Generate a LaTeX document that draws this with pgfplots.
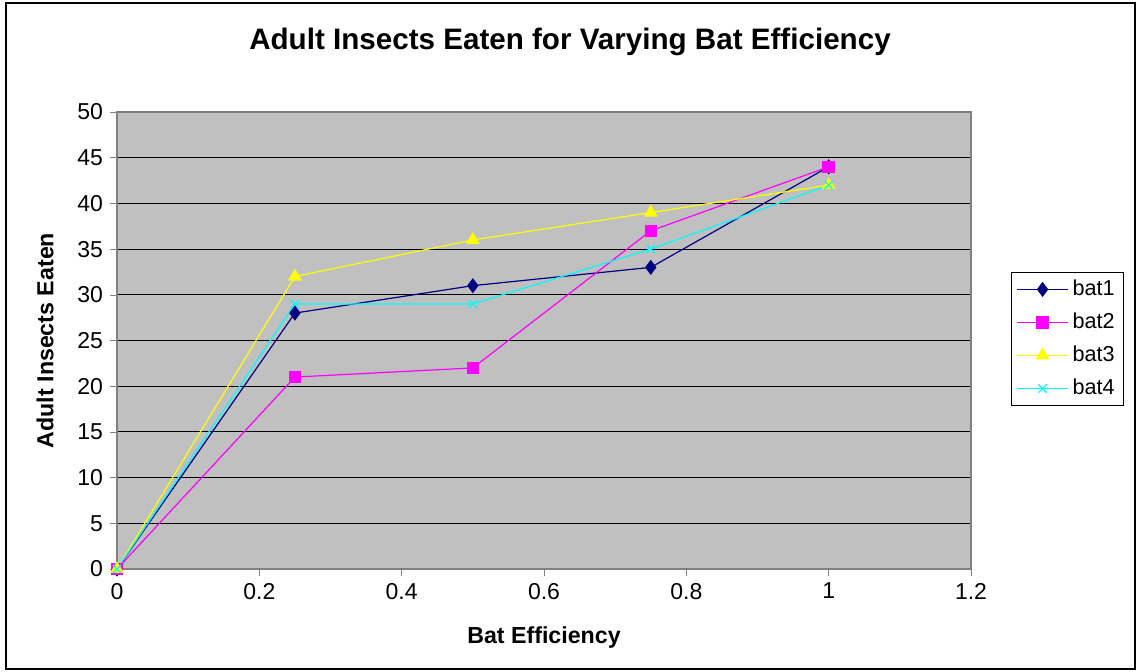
\documentclass[border=0pt]{standalone}
\usepackage{pgfplots}
\pgfplotsset{compat=1.18}
\usepackage{fontspec}
\setmainfont{Liberation Sans}
\definecolor{plotgray}{RGB}{192,192,192}
\definecolor{navyb}{RGB}{0,0,128}
\definecolor{magb}{RGB}{255,0,255}
\definecolor{yelb}{RGB}{255,255,0}
\definecolor{cyb}{RGB}{0,255,255}
\begin{document}
\begin{tikzpicture}[x=1pt,y=1pt]
\useasboundingbox (0,0) rectangle (569,336);
\draw[line width=1pt] (3,1.5) rectangle (567.5,334.3);
\node[font=\bfseries\fontsize{14.8}{17}\selectfont] at (285,315) {Adult Insects Eaten for Varying Bat Efficiency};
\begin{axis}[
  at={(58.5pt,51.5pt)}, anchor=south west,
  scale only axis, width=427pt, height=228.5pt,
  xmin=0, xmax=1.2, ymin=0, ymax=50,
  xtick={0,0.2,0.4,0.6,0.8,1,1.2},
  ytick={0,5,...,50},
  xticklabels={0,0.2,0.4,0.6,0.8,1,1.2},
  yticklabels={0,5,10,15,20,25,30,35,40,45,50},
  tick label style={font=\fontsize{11.5}{13}\selectfont},
  tick align=outside, tick pos=left,
  major tick length=3.5pt,
  axis background/.style={fill=plotgray},
  axis line style={gray, line width=0.6pt},
  ymajorgrids, grid style={black, line width=0.5pt},
  xlabel={\bfseries Bat Efficiency},
  ylabel={\bfseries Adult Insects Eaten},
  label style={font=\bfseries\fontsize{11.6}{13}\selectfont},
  xlabel style={at={(axis description cs:0.5,0)}, anchor=center, yshift=-34.5pt},
  ylabel style={at={(axis description cs:-0.0843,0.5)}, anchor=center},
  clip=false,
  legend style={at={(1.0468,0.650)}, anchor=north west, draw=black, line width=0.5pt,
     font=\fontsize{10.8}{12.5}\selectfont, row sep=3.2pt, inner xsep=2.5pt, inner ysep=1.8pt},
  legend cell align=left,
  legend image code/.code={\draw[#1] (0pt,0pt) -- (25.5pt,0pt); \path[#1] plot coordinates {(12.75pt,0pt)};},
]
\addplot[navyb, line width=0.6pt, mark=diamond*, mark size=3.3pt, mark options={fill=navyb}] coordinates {(0,0) (0.25,28) (0.5,31) (0.75,33) (1,44)};
\addlegendentry{bat1}
\addplot[magb, line width=0.6pt, mark=square*, mark size=2.8pt, mark options={fill=magb}] coordinates {(0,0) (0.25,21) (0.5,22) (0.75,37) (1,44)};
\addlegendentry{bat2}
\addplot[yelb, line width=0.6pt, mark=triangle*, mark size=3.4pt, mark options={fill=yelb}] coordinates {(0,0) (0.25,32) (0.5,36) (0.75,39) (1,42)};
\addlegendentry{bat3}
\addplot[cyb, line width=0.6pt, mark=x, mark size=3pt] coordinates {(0,0) (0.25,29) (0.5,29) (0.75,35) (1,42)};
\addlegendentry{bat4}
\end{axis}
\end{tikzpicture}
\end{document}
